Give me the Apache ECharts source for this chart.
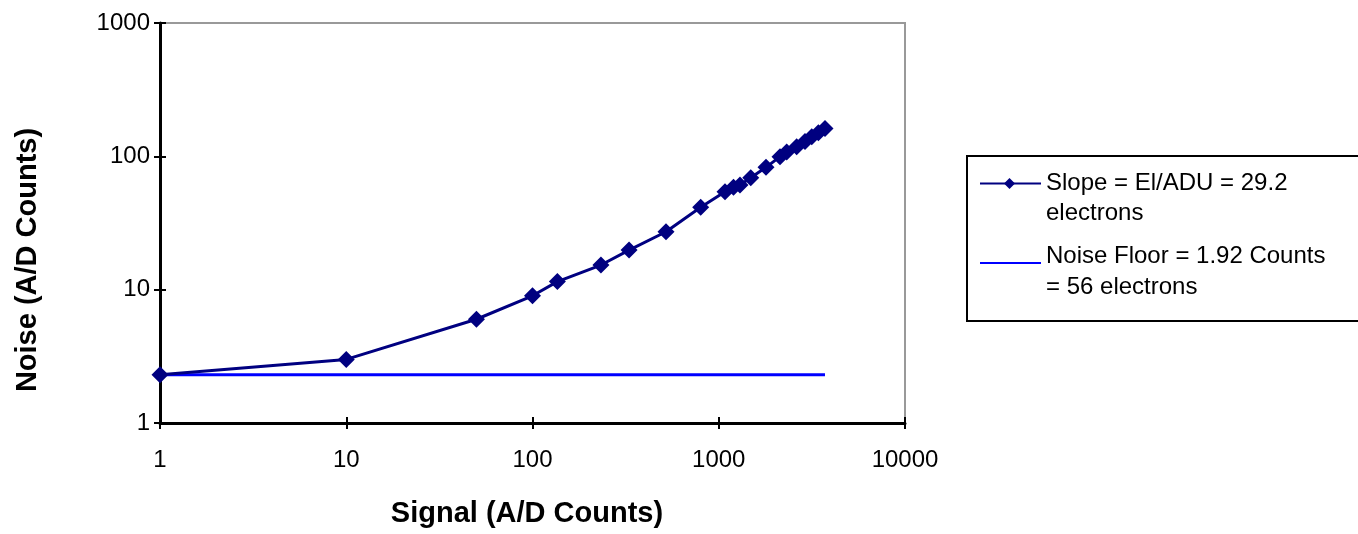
<!DOCTYPE html>
<html>
<head>
<meta charset="utf-8">
<script src="https://cdn.jsdelivr.net/npm/echarts@6/dist/echarts.min.js"></script>
<style>
  html, body { margin: 0; padding: 0; background: #fff; }
  #chart { width: 1358px; height: 534px; }
</style>
</head>
<body>
<div id="chart"></div>
<script>
// 读图得到的数据
var signal = [1, 10, 50, 100, 136, 233, 330, 521, 800, 1080, 1200, 1300, 1485, 1794, 2132, 2316, 2620, 2904, 3157, 3426, 3719];
var noise = [2.3, 3, 6, 9, 11.5, 15.3, 19.8, 27.2, 41.5, 54.3, 58.6, 61, 69, 82.7, 99.4, 108, 118, 129, 140, 150, 162];
var floorX = [1, 3719];
var floorY = [2.3, 2.3];
var seriesNames = ['Slope = El/ADU = 29.2\nelectrons', 'Noise Floor = 1.92 Counts\n= 56 electrons'];

var FONT = 'Liberation Sans, Arial, sans-serif';

var chart = echarts.init(document.getElementById('chart'));

var tickLine = { show: true, length: 6, lineStyle: { color: '#000', width: 2 } };
var tickInside = { show: true, inside: true, length: 6, lineStyle: { color: '#000', width: 2 } };
function plain(v) { return String(Math.round(v)); }

var option = {
  backgroundColor: '#fff',
  animation: false,
  grid: {
    left: 160, right: 453, top: 23, bottom: 111,
    show: true, borderColor: '#999', borderWidth: 2,
    outerBoundsMode: 'none'
  },
  xAxis: [
    {
      type: 'log', logBase: 10, min: 1, max: 10000, position: 'bottom',
      axisLine: { show: true, lineStyle: { color: '#000', width: 3 } },
      axisTick: tickLine,
      axisLabel: { color: '#000', fontSize: 24, fontFamily: FONT, margin: 25, formatter: plain },
      splitLine: { show: false }
    },
    {
      type: 'log', logBase: 10, min: 1, max: 10000, position: 'bottom',
      axisLine: { show: false },
      axisTick: tickInside,
      axisLabel: { show: false },
      splitLine: { show: false }
    }
  ],
  yAxis: [
    {
      type: 'log', logBase: 10, min: 1, max: 1000, position: 'left',
      axisLine: { show: true, lineStyle: { color: '#000', width: 3 } },
      axisTick: tickLine,
      axisLabel: { color: '#000', fontSize: 24, fontFamily: FONT, margin: 10, formatter: plain },
      splitLine: { show: false }
    },
    {
      type: 'log', logBase: 10, min: 1, max: 1000, position: 'left',
      axisLine: { show: false },
      axisTick: tickInside,
      axisLabel: { show: false },
      splitLine: { show: false }
    }
  ],
  series: [
    {
      name: seriesNames[0],
      type: 'line',
      data: signal.map(function (s, i) { return [s, noise[i]]; }),
      symbol: 'diamond',
      symbolSize: 17,
      itemStyle: { color: '#000080' },
      lineStyle: { color: '#000080', width: 3 },
      z: 3
    },
    {
      name: seriesNames[1],
      type: 'line',
      data: floorX.map(function (s, i) { return [s, floorY[i]]; }),
      showSymbol: false,
      lineStyle: { color: '#0000ff', width: 3 },
      z: 2
    }
  ],
  graphic: [
    // 坐标轴标题
    {
      type: 'text', x: 527, y: 514,
      style: { text: 'Signal (A/D Counts)', font: 'bold 29px ' + FONT, fill: '#000', textAlign: 'center', textVerticalAlign: 'middle' }
    },
    {
      type: 'text', x: 28, y: 260, rotation: Math.PI / 2,
      style: { text: 'Noise (A/D Counts)', font: 'bold 29px ' + FONT, fill: '#000', textAlign: 'center', textVerticalAlign: 'middle' }
    },
    // 图例
    {
      type: 'rect',
      shape: { x: 967, y: 156, width: 420, height: 165 },
      style: { fill: '#fff', stroke: '#000', lineWidth: 2 }
    },
    {
      type: 'line', shape: { x1: 980, y1: 183.5, x2: 1041, y2: 183.5 },
      style: { stroke: '#000080', lineWidth: 2 }
    },
    {
      type: 'polygon', shape: { points: [[1009.5, 178], [1015, 183.5], [1009.5, 189], [1004, 183.5]] },
      style: { fill: '#000080' }
    },
    {
      type: 'text', x: 1046, y: 168,
      style: { text: seriesNames[0], font: '24px ' + FONT, fill: '#000', textVerticalAlign: 'top', lineHeight: 30 }
    },
    {
      type: 'line', shape: { x1: 980, y1: 263, x2: 1041, y2: 263 },
      style: { stroke: '#0000ff', lineWidth: 2 }
    },
    {
      type: 'text', x: 1046, y: 241,
      style: { text: seriesNames[1], font: '24px ' + FONT, fill: '#000', textVerticalAlign: 'top', lineHeight: 31 }
    }
  ]
};

chart.setOption(option);
</script>
</body>
</html>
